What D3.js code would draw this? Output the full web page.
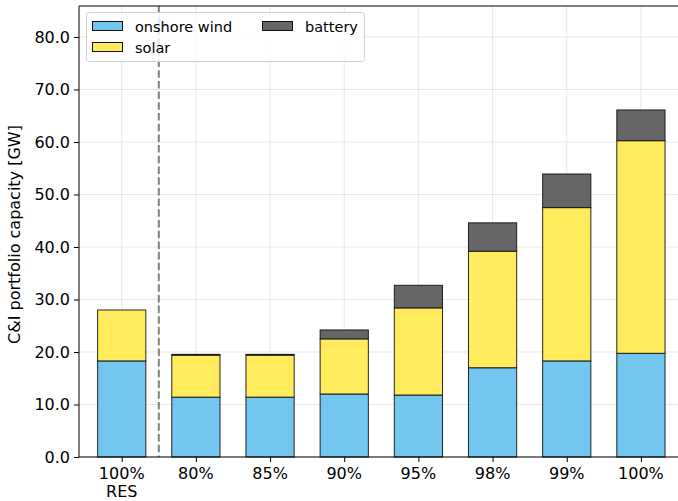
<!DOCTYPE html>
<html>
<head>
<meta charset="utf-8">
<script src="https://cdn.jsdelivr.net/npm/d3@7"></script>
<style>
  html, body { margin: 0; padding: 0; background: #fff; }
  svg { display: block; font-family: "DejaVu Sans", sans-serif; }
</style>
</head>
<body>
<svg id="chart" width="678" height="501"></svg>
<script>
// Scenario categories (first is the 100% RES reference case)
const categories = ["100%\nRES", "80%", "85%", "90%", "95%", "98%", "99%", "100%"];
// Installed capacity per technology [GW]
const onshoreWind = [18.3, 11.4, 11.4, 12.0, 11.8, 17.0, 18.3, 19.75];
const solar       = [9.7, 8.0, 8.0, 10.5, 16.6, 22.2, 29.2, 40.5];
const battery     = [0.0, 0.15, 0.15, 1.7, 4.3, 5.4, 6.4, 5.85];
const yTicks = [0, 10, 20, 30, 40, 50, 60, 70, 80];

const series = [
  { key: "onshore wind", values: onshoreWind, color: "#73c6f0" },
  { key: "solar", values: solar, color: "#ffeb5c" },
  { key: "battery", values: battery, color: "#666666" }
];

const svg = d3.select("#chart");
const mLeft = 79, mRight = 678, mTop = 6, mBottom = 457;
const tickFont = 16, legendFont = 14.5;

const x = d3.scaleLinear().domain([-0.576, 7.5]).range([mLeft, mRight]);
const y = d3.scaleLinear().domain([0, 85.9]).range([mBottom, mTop]);
const barW = 0.65 * (x(1) - x(0));

// grid
const grid = svg.append("g");
grid.selectAll("line.gy").data(yTicks).join("line")
  .attr("x1", mLeft).attr("x2", mRight)
  .attr("y1", d => y(d)).attr("y2", d => y(d))
  .attr("stroke", "#e8e8e8").attr("stroke-width", 1);
grid.selectAll("line.gx").data(categories).join("line")
  .attr("x1", (d, i) => x(i)).attr("x2", (d, i) => x(i))
  .attr("y1", mTop).attr("y2", mBottom)
  .attr("stroke", "#e8e8e8").attr("stroke-width", 1);

// stacked bars
const rows = categories.map((c, i) => {
  const r = { i };
  series.forEach(s => r[s.key] = s.values[i]);
  return r;
});
const stacked = d3.stack().keys(series.map(s => s.key))(rows);
stacked.forEach((layer, k) => {
  svg.append("g").selectAll("rect").data(layer).join("rect")
    .attr("x", d => x(d.data.i) - barW / 2)
    .attr("width", barW)
    .attr("y", d => y(d[1]))
    .attr("height", d => y(d[0]) - y(d[1]))
    .attr("fill", series[k].color)
    .attr("stroke", "#111")
    .attr("stroke-width", 1)
    .attr("stroke-opacity", d => (d[1] - d[0]) > 0 ? 0.9 : 0);
});

// separator between reference case and scenarios
svg.append("line")
  .attr("x1", x(0.5)).attr("x2", x(0.5))
  .attr("y1", mTop).attr("y2", mBottom)
  .attr("stroke", "#808080").attr("stroke-width", 2)
  .attr("stroke-dasharray", "7.5,3.2");

// axes
const yAxis = d3.axisLeft(y).tickValues(yTicks).tickFormat(d3.format(".1f")).tickSizeOuter(0).tickSize(5).tickPadding(4);
const gy = svg.append("g").attr("transform", `translate(${mLeft},0)`).call(yAxis);
gy.select(".domain").remove();
gy.selectAll("text").attr("font-size", tickFont).attr("fill", "#000").attr("font-family", "DejaVu Sans");
gy.selectAll("line").attr("stroke", "#000");

const xAxis = d3.axisBottom(x).tickValues(d3.range(categories.length)).tickFormat("").tickSize(5).tickSizeOuter(0);
const gx = svg.append("g").attr("transform", `translate(0,${mBottom})`).call(xAxis);
gx.select(".domain").remove();
gx.selectAll("line").attr("stroke", "#000");

// category labels, one text element per line
const xl = svg.append("g");
categories.forEach((c, i) => {
  c.split("\n").forEach((line, j) => {
    xl.append("text")
      .attr("x", x(i)).attr("y", mBottom + 21.6 + j * 18.6)
      .attr("text-anchor", "middle")
      .attr("font-size", tickFont)
      .attr("fill", "#000")
      .text(line);
  });
});

// spines
svg.append("line").attr("x1", mLeft).attr("x2", mLeft).attr("y1", mTop).attr("y2", mBottom).attr("stroke", "#000").attr("stroke-width", 1);
svg.append("line").attr("x1", mLeft).attr("x2", mRight).attr("y1", mBottom).attr("y2", mBottom).attr("stroke", "#000").attr("stroke-width", 1);
svg.append("line").attr("x1", mLeft).attr("x2", mRight).attr("y1", mTop).attr("y2", mTop).attr("stroke", "#000").attr("stroke-width", 1);

// y label
svg.append("text")
  .attr("transform", `translate(20,${(mTop + mBottom) / 2 + 3}) rotate(-90)`)
  .attr("text-anchor", "middle")
  .attr("font-size", tickFont)
  .attr("fill", "#000")
  .text("C&I portfolio capacity [GW]");

// legend
const lg = svg.append("g");
lg.append("rect").attr("x", 86.5).attr("y", 12.5).attr("width", 278).attr("height", 49)
  .attr("rx", 3).attr("fill", "#fff").attr("fill-opacity", 0.8)
  .attr("stroke", "#d0d0d0").attr("stroke-width", 1);
const legendPos = [
  { x: 92.5, y: 21.5 },
  { x: 92.5, y: 42.5 },
  { x: 262.5, y: 21.5 }
];
series.forEach((s, k) => {
  const p = legendPos[k];
  lg.append("rect").attr("x", p.x).attr("y", p.y).attr("width", 30).attr("height", 9)
    .attr("fill", s.color).attr("stroke", "#111").attr("stroke-width", 1);
  lg.append("text").attr("x", p.x + 42.5).attr("y", p.y + 10.5)
    .attr("font-size", legendFont).attr("fill", "#000").text(s.key);
});
</script>
</body>
</html>
